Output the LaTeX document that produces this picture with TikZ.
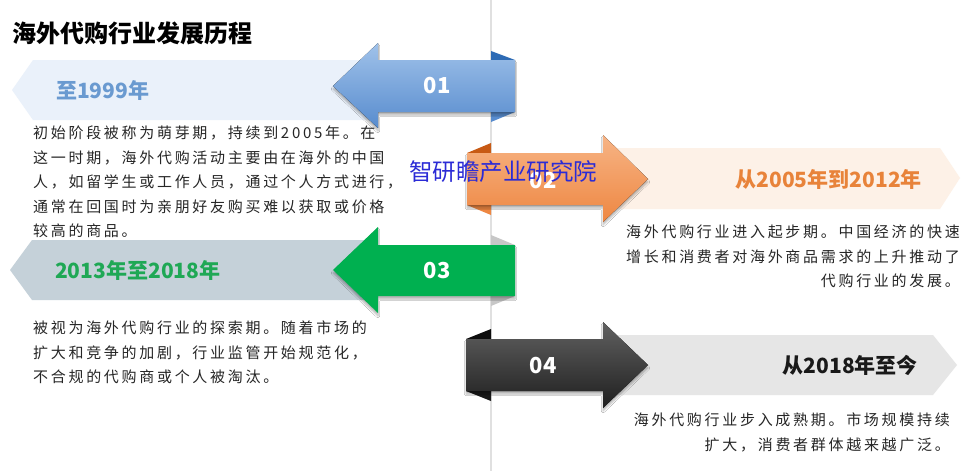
\documentclass[tikz,border=0pt]{standalone}
\usepackage{fontspec}
\newfontfamily\cjk{Noto Sans CJK SC}
\newfontfamily\cjkbody[LetterSpace=18]{Noto Sans CJK SC}
\usetikzlibrary{shadows.blur}

\definecolor{bandA}{HTML}{EAF1FA}
\definecolor{bandB}{HTML}{FDF1E7}
\definecolor{bandC}{HTML}{C5D1D9}
\definecolor{bandD}{HTML}{E6E6E6}
\definecolor{labA}{HTML}{6A9AD0}
\definecolor{labB}{HTML}{E8833A}
\definecolor{labC}{HTML}{1FA855}
\definecolor{wmark}{HTML}{2B2BD6}
\definecolor{blueTop}{HTML}{A0C2EA}
\definecolor{blueBot}{HTML}{588CCE}
\definecolor{blueFold}{HTML}{2E6BB5}
\definecolor{orTop}{HTML}{F7B485}
\definecolor{orBot}{HTML}{EE8742}
\definecolor{orFold}{HTML}{C85A14}
\definecolor{grn}{HTML}{00B050}

\begin{document}
\begin{tikzpicture}[x=1pt,y=-1pt,inner sep=0pt,
  body/.style={font=\cjkbody\fontsize{15}{24.5}\selectfont,text=black!85},
  lab/.style={font=\cjk\bfseries\fontsize{21}{24}\selectfont},
  num/.style={font=\cjk\bfseries\fontsize{22}{24}\selectfont,text=white},
  shad/.style={blur shadow={shadow xshift=0pt,shadow yshift=-3pt,shadow blur steps=6,shadow opacity=30}}]
\useasboundingbox[fill=white] (0,0) rectangle (976,471);
\draw [black!12,line width=1.2pt] (491,0) -- (491,471);

\node [anchor=west,font=\cjk\bfseries\fontsize{24}{26}\selectfont] (title) at (12,33) {海外代购行业发展历程};

% bands
\fill [bandA] (33,60) -- (378,60) -- (378,120) -- (33,120) -- (12,90) -- cycle;
\fill [bandB] (603,148) -- (940,148) -- (960,178) -- (940,209) -- (603,209) -- cycle;
\fill [bandC] (32,240) -- (378,240) -- (378,300) -- (32,300) -- (10,270) -- cycle;
\fill [bandD] (603,335) -- (933,335) -- (957,365) -- (933,395) -- (603,395) -- cycle;

% folds
\fill [blueFold] (491,51) -- (515,60) -- (491,60) -- cycle;
\fill [blueBot] (491,112) -- (515,112) -- (491,122) -- cycle;
\fill [orFold] (491,143) -- (491,153) -- (467,153) -- cycle;
\fill [orBot] (467,205) -- (491,205) -- (491,215) -- cycle;
\fill [black!22] (491,235) -- (515,245) -- (491,245) -- cycle;
\fill [black!22] (491,296) -- (515,296) -- (491,306) -- cycle;
\fill [black!95] (491,329) -- (491,339) -- (466,339) -- cycle;
\fill [black!90] (466,391) -- (491,391) -- (491,401) -- cycle;

% arrows
\fill [shad,top color=blueTop,bottom color=blueBot]
  (515,60) -- (378,60) -- (378,43) -- (333,86) -- (378,128) -- (378,112) -- (515,112) -- cycle;
\fill [shad,top color=orTop,bottom color=orBot]
  (467,153) -- (603,153) -- (603,135) -- (648,179) -- (603,222) -- (603,205) -- (467,205) -- cycle;
\fill [shad,fill=grn]
  (515,245) -- (378,245) -- (378,227) -- (333,270) -- (378,313) -- (378,296) -- (515,296) -- cycle;
\fill [shad,top color=black!62,bottom color=black!88]
  (466,339) -- (603,339) -- (603,322) -- (648,365) -- (603,408) -- (603,391) -- (466,391) -- cycle;

\node [num] (n1) at (437,86) {01};
\node [num] (n2) at (543,181) {02};
\node [num] (n3) at (437,271) {03};
\node [num] (n4) at (543,366) {04};

\node [lab,text=labA,anchor=west] (y1) at (56,90) {至1999年};
\node [lab,text=labB,anchor=east] (y2) at (922,179) {从2005年到2012年};
\node [lab,text=labC,anchor=west] (y3) at (55,270) {2013年至2018年};
\node [lab,text=black!90,anchor=east] (y4) at (918,365) {从2018年至今};

\node [body,align=left,anchor=north west] (t1) at (33,126)
  {初始阶段被称为萌芽期，持续到2005年。在\\这一时期，海外代购活动主要由在海外的中国\\人，如留学生或工作人员，通过个人方式进行，\\通常在回国时为亲朋好友购买难以获取或价格\\较高的商品。};
\node [body,align=right,anchor=north east] (t2) at (960,225)
  {海外代购行业进入起步期。中国经济的快速\\增长和消费者对海外商品需求的上升推动了\\代购行业的发展。};
\node [body,align=left,anchor=north west] (t3) at (33,321)
  {被视为海外代购行业的探索期。随着市场的\\扩大和竞争的加剧，行业监管开始规范化，\\不合规的代购商或个人被淘汰。};
\node [body,align=right,anchor=north east] (t4) at (950,413)
  {海外代购行业步入成熟期。市场规模持续\\扩大，消费者群体越来越广泛。};

\node [font=\cjk\fontsize{23.5}{26}\selectfont,text=wmark] (wm) at (503,172) {智研瞻产业研究院};
\end{tikzpicture}
\end{document}
